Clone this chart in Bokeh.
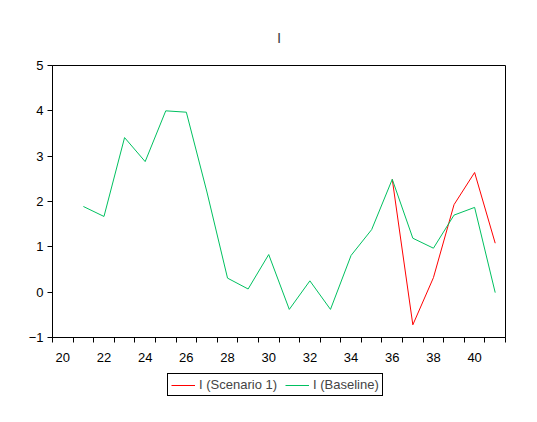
from bokeh.plotting import figure
from bokeh.layouts import column
from bokeh.models import FixedTicker, Legend, LegendItem, Range1d, ColumnDataSource
from bokeh.embed import file_html
from bokeh.resources import INLINE

periods = list(range(21, 42))
baseline = [1.89, 1.67, 3.41, 2.88, 4.00, 3.97, 2.21, 0.31, 0.07, 0.83, -0.38,
            0.25, -0.38, 0.81, 1.38, 2.49, 1.19, 0.97, 1.70, 1.87, -0.01]
# Scenario 1 coincides with the baseline (hidden under it) until period 36
scenario_periods = [36, 37, 38, 39, 40, 41]
scenario1 = [2.49, -0.72, 0.32, 1.93, 2.64, 1.08]
x_labels = [20, 22, 24, 26, 28, 30, 32, 34, 36, 38, 40]
y_ticks = [-1, 0, 1, 2, 3, 4, 5]
series_names = ["I (Scenario 1)", "I (Baseline)"]
series_colors = ["#FF0000", "#00C060"]

FONT = "Liberation Sans"

p = figure(width=521, height=367, output_backend="svg", toolbar_location=None,
           x_range=Range1d(19.5, 41.5), y_range=Range1d(-1, 5),
           min_border_left=52, min_border_right=16, min_border_top=65,
           min_border_bottom=30, title="I")

p.title.text_font = FONT
p.title.text_font_size = "15px"
p.title.text_font_style = "normal"
p.title.align = "center"
p.title.standoff = 40

p.outline_line_color = "black"
p.outline_line_width = 1
p.background_fill_color = "white"
p.border_fill_color = "white"
p.xgrid.visible = False
p.ygrid.visible = False

src_s = ColumnDataSource(dict(x=scenario_periods, y=scenario1))
src_b = ColumnDataSource(dict(x=periods, y=baseline))
p.line("x", "y", source=src_s, line_color=series_colors[0], line_width=1)
p.line("x", "y", source=src_b, line_color=series_colors[1], line_width=1)

xa = p.xaxis[0]
xa.ticker = FixedTicker(ticks=x_labels, minor_ticks=[v + 0.5 for v in range(19, 42)])
xa.major_tick_out = 0
xa.major_tick_in = 0
xa.minor_tick_out = 5
xa.minor_tick_in = 0
xa.minor_tick_line_color = "black"
xa.axis_line_color = "black"
xa.major_label_text_font = FONT
xa.major_label_text_font_size = "13px"
xa.major_label_text_color = "black"
xa.major_label_standoff = 10

ya = p.yaxis[0]
ya.ticker = FixedTicker(ticks=y_ticks, minor_ticks=[])
ya.major_tick_out = 5
ya.major_tick_in = 0
ya.major_tick_line_color = "black"
ya.axis_line_color = "black"
ya.major_label_text_font = FONT
ya.major_label_text_font_size = "13px"
ya.major_label_text_color = "black"
ya.major_label_standoff = 4

# legend row below the chart
lf = figure(width=521, height=45, output_backend="svg", toolbar_location=None,
            x_range=Range1d(0, 1), y_range=Range1d(0, 1),
            x_axis_location=None, y_axis_location=None,
            min_border=0, outline_line_color=None)
lf.grid.visible = False
items = []
for name, col in zip(series_names, series_colors):
    # renderer kept outside the visible range: it only feeds the legend swatch
    r = lf.line(x=[-10, -9], y=[-10, -9], line_color=col, line_width=1)
    items.append(LegendItem(label=name, renderers=[r]))

legend = Legend(items=items, orientation="horizontal", location=(115, 16))
legend.label_text_font = FONT
legend.label_text_font_size = "13px"
legend.glyph_width = 24
legend.glyph_height = 14
legend.label_standoff = 4
legend.spacing = 8
legend.padding = 3
legend.margin = 0
legend.border_line_color = "black"
legend.border_line_alpha = 1
legend.border_line_width = 1
legend.background_fill_color = "white"
legend.background_fill_alpha = 1
legend.label_height = 14
lf.add_layout(legend, "center")

open("out.html", "w").write(file_html(column(p, lf), INLINE))
